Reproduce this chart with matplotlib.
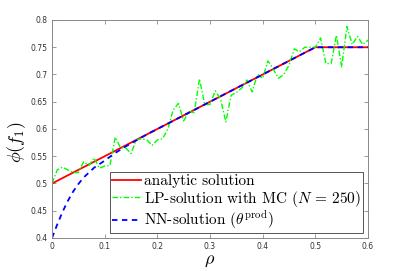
import matplotlib
matplotlib.use("Agg")
import matplotlib.pyplot as plt
import numpy as np

plt.rcParams['mathtext.fontset'] = 'cm'

# analytic solution (piecewise linear)
rho_an = [0.0, 0.5, 0.6]
phi_an = [0.5, 0.75, 0.75]

# LP-solution with MC (N = 250), sampled every 0.01
rho_lp = np.round(np.arange(0, 0.601, 0.01), 2)
phi_lp = [0.500, 0.525, 0.530, 0.525, 0.520, 0.520, 0.540, 0.533, 0.547, 0.528,
          0.532, 0.533, 0.585, 0.566, 0.565, 0.555, 0.580, 0.582, 0.580, 0.570,
          0.580, 0.582, 0.600, 0.635, 0.647, 0.615, 0.632, 0.630, 0.692, 0.645,
          0.645, 0.670, 0.655, 0.613, 0.662, 0.667, 0.675, 0.690, 0.668, 0.700,
          0.693, 0.725, 0.710, 0.693, 0.700, 0.717, 0.747, 0.742, 0.750, 0.750,
          0.750, 0.767, 0.720, 0.720, 0.772, 0.714, 0.788, 0.755, 0.770, 0.755,
          0.763]

# NN-solution (theta^prod)
rho_nn = [0.0, 0.01, 0.02, 0.03, 0.04, 0.05, 0.06, 0.08, 0.10, 0.12, 0.14,
          0.16, 0.18, 0.20, 0.5, 0.6]
phi_nn = [0.400, 0.425, 0.448, 0.468, 0.485, 0.499, 0.511, 0.529, 0.542, 0.556,
          0.568, 0.579, 0.590, 0.600, 0.750, 0.750]

fig = plt.figure(figsize=(4.07, 2.71), dpi=100)
ax = fig.add_axes([0.1278, 0.1218, 0.7764, 0.8044])

ax.plot(rho_an, phi_an, color='red', lw=1.3, label='analytic solution')
ax.plot(rho_lp, phi_lp, color=(0, 1, 0), lw=1.0, ls=(0, (4, 1.5, 1, 1.5)),
        label=r'LP-solution with MC ($N\,=\,250$)')
ax.plot(rho_nn, phi_nn, color='blue', lw=1.3, ls=(0, (3, 2.5)),
        label=r'NN-solution ($\theta^{\mathrm{prod}}$)')

ax.set_xlim(0, 0.6)
ax.set_ylim(0.4, 0.8)
ax.set_xticks([0, 0.1, 0.2, 0.3, 0.4, 0.5, 0.6])
ax.set_xticklabels(['0', '0.1', '0.2', '0.3', '0.4', '0.5', '0.6'])
yt = [0.4, 0.45, 0.5, 0.55, 0.6, 0.65, 0.7, 0.75, 0.8]
ax.set_yticks(yt)
ax.set_yticklabels(['%g' % v for v in yt])
ax.tick_params(direction='in', top=True, right=True, length=3, width=0.6,
               color='#888888', labelcolor='#333333', labelsize=5.5, pad=3)
for s in ax.spines.values():
    s.set_color('#888888')
    s.set_linewidth(0.7)

ax.set_xlabel(r'$\rho$', fontsize=13, labelpad=0)
ax.set_ylabel(r'$\phi(f_1)$', fontsize=13)
ax.yaxis.set_label_coords(-0.075, 0.44)

leg = ax.legend(loc='lower right', prop={'family': 'cmr10', 'size': 11},
                fancybox=False, framealpha=1, edgecolor='#555555',
                handlelength=1.9, handletextpad=0.2, labelspacing=0.02,
                borderpad=0.15, borderaxespad=0.3)
leg.get_frame().set_linewidth(0.7)

fig.savefig('out.png', dpi=100)
